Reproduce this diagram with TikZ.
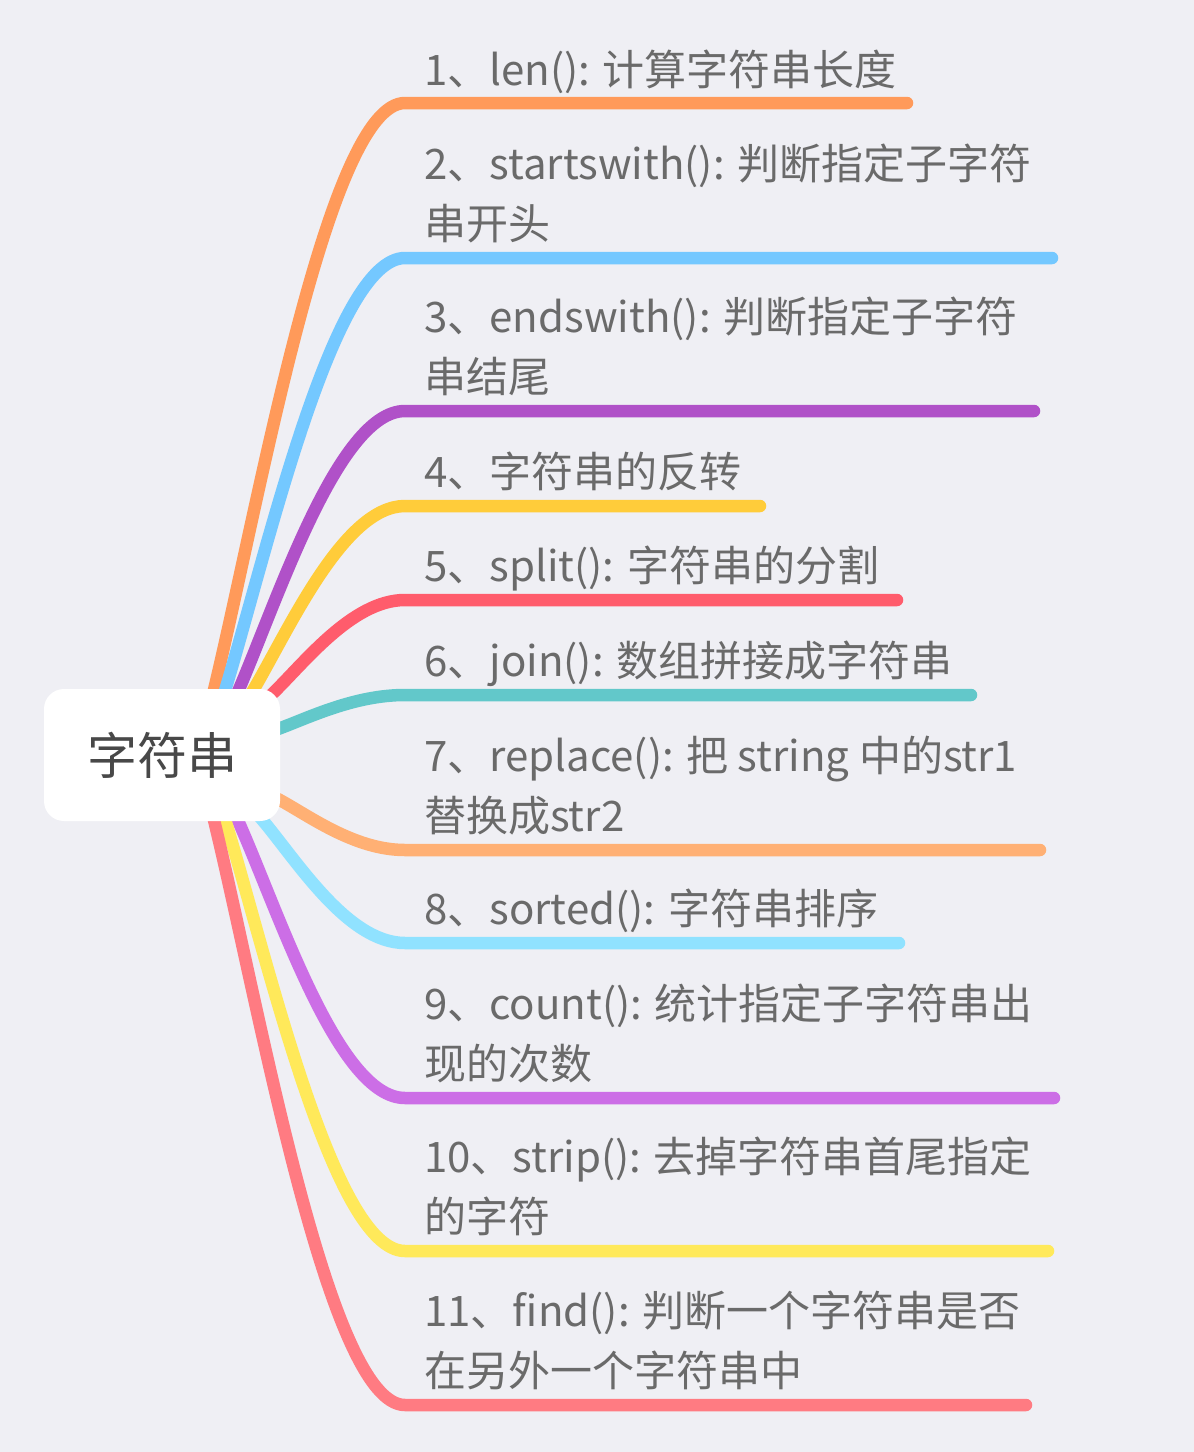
\documentclass[tikz,border=0pt]{standalone}
\usepackage{fontspec}
\setmainfont{Noto Sans CJK SC}
\definecolor{bgc}{HTML}{EFEFF4}
\definecolor{txt}{HTML}{6A6A6A}
\definecolor{roottxt}{HTML}{484848}
\definecolor{c1}{HTML}{FF9A5A}
\definecolor{c2}{HTML}{74C8FF}
\definecolor{c3}{HTML}{B051C8}
\definecolor{c4}{HTML}{FFCC3A}
\definecolor{c5}{HTML}{FF5C6C}
\definecolor{c6}{HTML}{62C8CA}
\definecolor{c7}{HTML}{FFB074}
\definecolor{c8}{HTML}{90E2FF}
\definecolor{c9}{HTML}{CC6EE6}
\definecolor{c10}{HTML}{FFE95A}
\definecolor{c11}{HTML}{FF7B82}
\pgfdeclarelayer{bglines}
\pgfsetlayers{bglines,main}
\tikzset{
  branchline/.style={line width=12.5pt, line cap=round, line join=round},
  leaf/.style={anchor=base west, inner sep=0pt, align=left, text=txt,
    font=\fontsize{42}{60}\selectfont},
  rootbox/.style={fill=white, rounded corners=20pt, minimum width=236pt,
    minimum height=132pt, inner sep=0pt, text=roottxt,
    font=\fontsize{50}{60}\selectfont}
}
\begin{document}
\begin{tikzpicture}[x=1pt,y=-1pt]
\useasboundingbox (0,0) rectangle (1194,1452);

\node[rootbox] (root) at (162,755) {字符串};

% text (anchor = baseline of the last line)
\node[leaf] (t1) at (424,85) {1、len(): 计算字符串长度};
\node[leaf] (t2) at (424,239) {2、startswith(): 判断指定子字符\\串开头};
\node[leaf] (t3) at (424,392) {3、endswith(): 判断指定子字符\\串结尾};
\node[leaf] (t4) at (424,487) {4、字符串的反转};
\node[leaf] (t5) at (424,581) {5、split(): 字符串的分割};
\node[leaf] (t6) at (424,676) {6、join(): 数组拼接成字符串};
\node[leaf] (t7) at (424,831) {7、replace(): 把 string 中的str1\\替换成str2};
\node[leaf] (t8) at (424,924) {8、sorted(): 字符串排序};
\node[leaf] (t9) at (424,1079) {9、count(): 统计指定子字符串出\\现的次数};
\node[leaf] (t10) at (424,1232) {10、strip(): 去掉字符串首尾指定\\的字符};
\node[leaf] (t11) at (424,1386) {11、find(): 判断一个字符串是否\\在另外一个字符串中};

% connector coordinates
\coordinate (s1) at (213,694);  \coordinate (e1) at (405,103);  \coordinate (f1) at (907,103);
\coordinate (s2) at (224,694);  \coordinate (e2) at (405,258);  \coordinate (f2) at (1052,258);
\coordinate (s3) at (237,694);  \coordinate (e3) at (405,411);  \coordinate (f3) at (1034,411);
\coordinate (s4) at (251,694);  \coordinate (e4) at (405,506);  \coordinate (f4) at (760,506);
\coordinate (s5) at (270,696);  \coordinate (e5) at (405,600);  \coordinate (f5) at (897,600);
\coordinate (s6) at (278,729);  \coordinate (e6) at (405,695);  \coordinate (f6) at (971,695);
\coordinate (s7) at (278,799);  \coordinate (e7) at (405,850);  \coordinate (f7) at (1040,850);
\coordinate (s8) at (259,816);  \coordinate (e8) at (405,943);  \coordinate (f8) at (899,943);
\coordinate (s9) at (236,816);  \coordinate (e9) at (405,1098); \coordinate (f9) at (1054,1098);
\coordinate (s10) at (224,816); \coordinate (e10) at (405,1251); \coordinate (f10) at (1048,1251);
\coordinate (s11) at (213,816); \coordinate (e11) at (405,1405); \coordinate (f11) at (1026,1405);

\begin{pgfonlayer}{bglines}
\fill[bgc] (0,0) rectangle (1194,1452);
\draw[branchline, c1] (s1) .. controls (259,504) and (328,103) .. (e1) -- (f1);
\draw[branchline, c2] (s2) .. controls (267,553) and (333,258) .. (e2) -- (f2);
\draw[branchline, c3] (s3) .. controls (277,602) and (338,411) .. (e3) -- (f3);
\draw[branchline, c4] (s4) .. controls (288,632) and (343,506) .. (e4) -- (f4);
\draw[branchline, c5] (s5) .. controls (302,666) and (351,600) .. (e5) -- (f5);
\draw[branchline, c6] (s6) .. controls (308,718) and (354,695) .. (e6) -- (f6);
\draw[branchline, c7] (s7) .. controls (308,815) and (354,850) .. (e7) -- (f7);
\draw[branchline, c8] (s8) .. controls (294,856) and (346,943) .. (e8) -- (f8);
\draw[branchline, c9] (s9) .. controls (277,906) and (337,1098) .. (e9) -- (f9);
\draw[branchline, c10] (s10) .. controls (267,955) and (333,1251) .. (e10) -- (f10);
\draw[branchline, c11] (s11) .. controls (259,1004) and (328,1405) .. (e11) -- (f11);
\end{pgfonlayer}
\end{tikzpicture}
\end{document}
